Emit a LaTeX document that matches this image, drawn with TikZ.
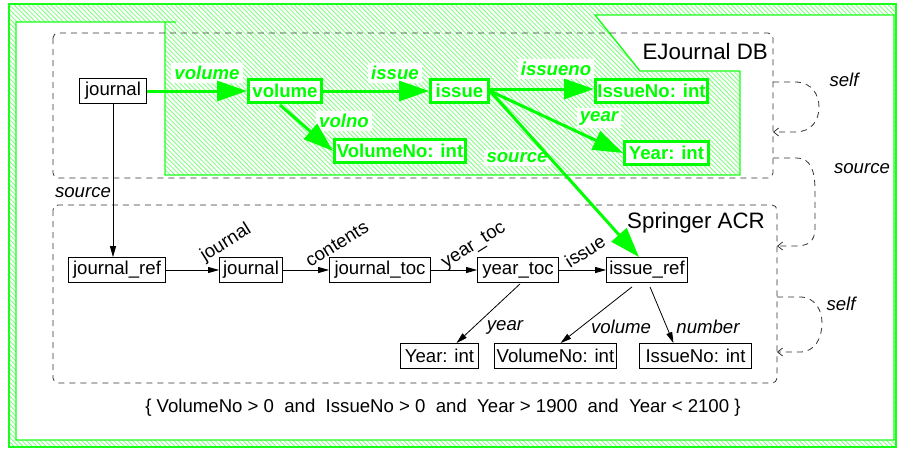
\documentclass[tikz,border=0pt]{standalone}
\usepackage{fontspec}
\setmainfont{Liberation Sans}
\usetikzlibrary{arrows.meta,calc}

\tikzset{
  hatchline/.style={draw=green!50, line width=0.8pt},
  frameline/.style={draw=green!90, line width=1.4pt},
  plainbox/.style={draw=black, line width=0.8pt, fill=white, minimum height=25pt, inner sep=0pt,
                   font=\fontsize{18.6}{20}\selectfont},
  greenbox/.style={draw=green, line width=3pt, fill=white, text=green, minimum height=23pt, inner sep=0pt,
                   font=\bfseries\fontsize{18.6}{20}\selectfont},
  gedge/.style={draw=green, line width=3pt, -{Triangle[length=30pt,width=20pt]}},
  bedge/.style={draw=black, line width=0.8pt, -{Triangle[length=11pt,width=6pt]}},
  glabel/.style={fill=white, text=green, inner sep=3pt, font=\bfseries\itshape\fontsize{18.6}{20}\selectfont},
  blabel/.style={font=\itshape\fontsize{18.6}{20}\selectfont, inner sep=1pt},
  rlabel/.style={font=\fontsize{18.6}{20}\selectfont, inner sep=0pt, rotate=32},
  dbox/.style={draw=black!80, line width=0.8pt, dash pattern=on 6pt off 5pt, rounded corners=5pt},
  loopedge/.style={draw=black!80, line width=0.8pt, dash pattern=on 6pt off 5pt,
                   -{Straight Barb[length=5pt,width=8pt]}},
  dblabel/.style={font=\fontsize{22.3}{24}\selectfont, anchor=east, inner sep=0pt},
}

\begin{document}
\begin{tikzpicture}[x=1pt,y=-1pt]
\useasboundingbox (0,0) rectangle (897,448);

% hatched background and the white working area
\fill[white] (0,0) rectangle (897,448);
\begin{scope}
  \clip (9,4) rectangle (896,447);
  \foreach \k in {-102,...,196} {
    \draw[hatchline] ({\k*4.6},0) -- ({\k*4.6+460},460);
  }
\end{scope}
\draw[frameline] (9,4) rectangle (896,447);
\fill[white] (16,22) -- (165,22) -- (165,175) -- (740,175) -- (740,71) -- (640,71)
  -- (595,15) -- (894,15) -- (894,440) -- (16,440) -- cycle;
\draw[frameline] (176,22) -- (16,22) -- (16,440) -- (894,440) -- (894,15) -- (595,15)
  -- (640,71) -- (740,71) -- (740,175) -- (165,175) -- (165,22);

% the two schema boxes
\draw[dbox] (53,33) rectangle (773,178);
\draw[dbox] (53,205) rectangle (777,383);
\node[dblabel] (ejdb) at (768,52) {EJournal DB};
\node[dblabel] (sacr) at (765,223) {Springer ACR};

% EJournal DB schema
\node[plainbox, minimum width=67pt] (jtop) at (113,91) {journal};
\node[greenbox, minimum width=73pt] (vol) at (285,91) {volume};
\node[greenbox, minimum width=58pt] (iss) at (459.5,91) {issue};
\node[greenbox, minimum width=112pt] (inoT) at (651.5,91) {IssueNo: int};
\node[greenbox, minimum width=131pt] (vnoT) at (400,151) {VolumeNo: int};
\node[greenbox, minimum width=84pt] (yrT) at (666.5,153) {Year: int};

% Springer ACR schema
\node[plainbox, minimum width=97pt] (jref) at (117,270) {journal\_ref};
\node[plainbox, minimum width=63pt] (jbot) at (251,270) {journal};
\node[plainbox, minimum width=101pt] (jtoc) at (380,270) {journal\_toc};
\node[plainbox, minimum width=81pt] (ytoc) at (518,270) {year\_toc};
\node[plainbox, minimum width=81pt] (iref) at (647,270) {issue\_ref};
\node[plainbox, minimum width=78pt] (yrB) at (439.5,356) {Year: int};
\node[plainbox, minimum width=122pt] (vnoB) at (555.5,356) {VolumeNo: int};
\node[plainbox, minimum width=112pt] (inoB) at (695.5,356) {IssueNo: int};

% labels of the mapped (green) edges
\node[glabel] (lvol) at (207,73) {volume};
\node[glabel] (liss) at (395,73) {issue};
\node[glabel] (lvno) at (344,121) {volno};
\node[glabel] (lino) at (556,69) {issueno};
\node[glabel] (lyr) at (599,118) {year};
\node[glabel] (lsrc) at (517,158) {source};

% green edges
\draw[gedge] (jtop.east) -- (vol.west);
\draw[gedge] (vol.east) -- (iss.west);
\draw[gedge] ($(vol.south)+(-5,1)$) -- (vnoT.west);
\draw[gedge] ($(iss.east)+(0,-2)$) -- ($(inoT.west)+(0,-2)$);
\draw[gedge] (iss.east) -- (yrT.west);
\draw[gedge] (iss.east) -- ($(iref.north)+(-8,0)$);

% black edges and labels
\draw[bedge] (jtop.south) -- (jtop.south |- jref.north);
\node[blabel] (lsrcB) at (83,193) {source};
\draw[bedge] (jref.east) -- (jbot.west);
\node[rlabel] (ljour) at (226,243) {journal};
\draw[bedge] (jbot.east) -- (jtoc.west);
\node[rlabel] (lcont) at (337,244) {contents};
\draw[bedge] (jtoc.east) -- (ytoc.west);
\node[rlabel] (lytoc) at (474,246) {year\_toc};
\draw[bedge] (ytoc.east) -- (iref.west);
\node[rlabel] (liss2) at (585,251) {issue};

\draw[bedge] ($(ytoc.south)+(2,1)$) -- ($(yrB.north)+(17,0)$);
\node[blabel] (lyrB) at (505,327) {year};
\draw[bedge] ($(iref.south)+(-15,4)$) -- ($(vnoB.north)+(5,0)$);
\node[blabel] (lvolB) at (621,327) {volume};
\draw[bedge] ($(iref.south)+(3,4)$) -- ($(inoB.north)+(-22,0)$);
\node[blabel] (lnum) at (708,327) {number};

% constraint line
\node[font=\fontsize{18.6}{20}\selectfont] (cons) at (443,408)
  {\{ VolumeNo > 0~~and~~IssueNo > 0~~and~~Year > 1900~~and~~Year < 2100 \}};

% relations between the two schemas
\coordinate (s1a) at (773,82);
\coordinate (s1b) at (773,132);
\coordinate (s2a) at (773,158);
\coordinate (s2b) at (777,246);
\coordinate (s3a) at (777,297);
\coordinate (s3b) at (777,352);
\draw[loopedge] (s1a) -- (795,82) .. controls (812,82) and (819,95) .. (819,107)
  .. controls (819,120) and (812,132) .. (795,132) -- (s1b);
\draw[loopedge] (s2a) -- (797,158) .. controls (810,158) and (815,170) .. (815,190)
  -- (815,228) .. controls (815,242) and (808,246) .. (795,246) -- (s2b);
\draw[loopedge] (s3a) -- (800,297) .. controls (815,297) and (822,310) .. (822,323)
  .. controls (822,338) and (815,352) .. (800,352) -- (s3b);
\node[blabel] (lself1) at (844,80) {self};
\node[blabel] (lsrc2) at (862,169) {source};
\node[blabel] (lself2) at (841,304) {self};
\end{tikzpicture}
\end{document}
